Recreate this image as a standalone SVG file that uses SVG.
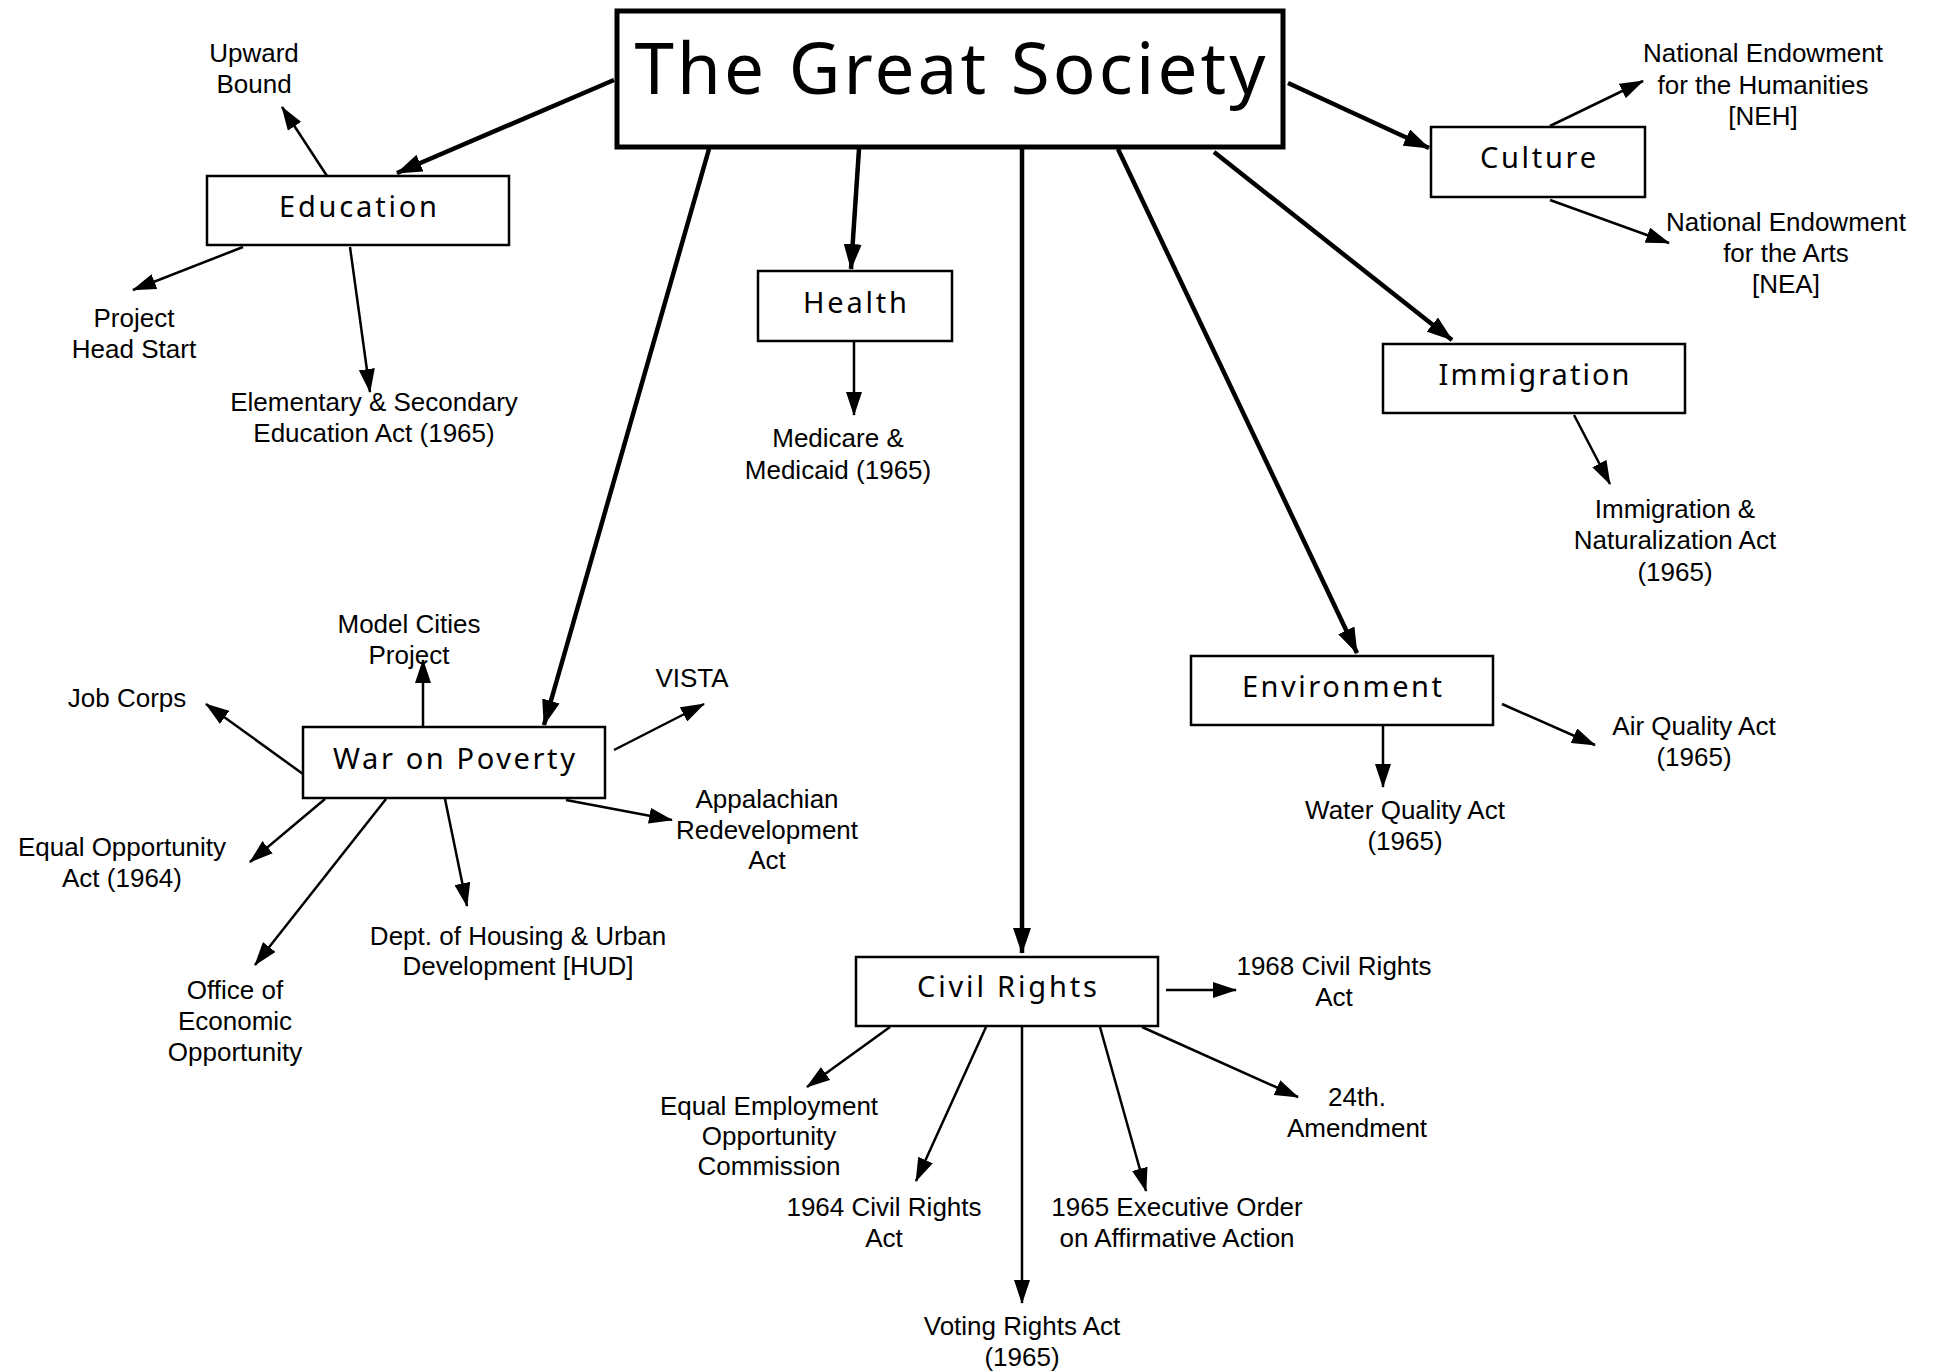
<svg xmlns="http://www.w3.org/2000/svg" width="1933" height="1372" viewBox="0 0 1933 1372">
<style>
.bg{fill:#fff}
.main{fill:#fff;stroke:#000;stroke-width:5}
.box{fill:#fff;stroke:#000;stroke-width:2.5}
.title{font-family:"Noto Sans","DejaVu Sans",sans-serif;font-size:71px;fill:#000;text-anchor:middle}
.bl{font-family:"Noto Sans","DejaVu Sans",sans-serif;font-size:29px;fill:#000;text-anchor:middle}
.lb{font-family:"Liberation Sans",Arial,sans-serif;font-size:26px;fill:#000;text-anchor:middle}
.thick{stroke:#000;stroke-width:4.5;fill:none;marker-end:url(#big)}
.thin{stroke:#000;stroke-width:2.5;fill:none;marker-end:url(#small)}
</style>
<defs>
<marker id="big" markerUnits="userSpaceOnUse" markerWidth="26" markerHeight="18" refX="25" refY="9" orient="auto"><path d="M0,0 L26,9 L0,18 z" fill="#000"/></marker>
<marker id="small" markerUnits="userSpaceOnUse" markerWidth="24" markerHeight="16" refX="23" refY="8" orient="auto"><path d="M0,0 L24,8 L0,16 z" fill="#000"/></marker>
</defs>
<rect class="bg" x="0" y="0" width="1933" height="1372"/>
<g id="connectors">
<line class="thick" x1="614" y1="80" x2="397" y2="173"/>
<line class="thick" x1="859" y1="149" x2="851" y2="269"/>
<line class="thick" x1="709" y1="149" x2="544" y2="725"/>
<line class="thick" x1="1022" y1="149" x2="1022" y2="953"/>
<line class="thick" x1="1118" y1="149" x2="1357" y2="653"/>
<line class="thick" x1="1214" y1="152" x2="1452" y2="340"/>
<line class="thick" x1="1288" y1="83" x2="1429" y2="148"/>
<line class="thin" x1="327" y1="176" x2="282" y2="107"/>
<line class="thin" x1="243" y1="247" x2="133" y2="290"/>
<line class="thin" x1="350" y1="247" x2="370" y2="392"/>
<line class="thin" x1="854" y1="341" x2="854" y2="415"/>
<line class="thin" x1="423" y1="727" x2="423" y2="660"/>
<line class="thin" x1="303" y1="774" x2="206" y2="704"/>
<line class="thin" x1="614" y1="750" x2="704" y2="704"/>
<line class="thin" x1="566" y1="800" x2="672" y2="820"/>
<line class="thin" x1="325" y1="799" x2="250" y2="862"/>
<line class="thin" x1="386" y1="799" x2="255" y2="965"/>
<line class="thin" x1="445" y1="799" x2="467" y2="906"/>
<line class="thin" x1="1166" y1="990" x2="1236" y2="990"/>
<line class="thin" x1="890" y1="1027" x2="807" y2="1087"/>
<line class="thin" x1="986" y1="1027" x2="916" y2="1181"/>
<line class="thin" x1="1022" y1="1027" x2="1022" y2="1303"/>
<line class="thin" x1="1100" y1="1027" x2="1146" y2="1191"/>
<line class="thin" x1="1142" y1="1027" x2="1298" y2="1097"/>
<line class="thin" x1="1383" y1="726" x2="1383" y2="787"/>
<line class="thin" x1="1502" y1="704" x2="1595" y2="745"/>
<line class="thin" x1="1574" y1="415" x2="1610" y2="484"/>
<line class="thin" x1="1550" y1="126" x2="1643" y2="81"/>
<line class="thin" x1="1550" y1="200" x2="1669" y2="243"/>
</g>
<g id="great-society"><rect class="main" x="617" y="11" width="666" height="136"/><text class="title" x="950" y="94" textLength="631" lengthAdjust="spacing">The Great Society</text></g>
<g id="education"><rect class="box" x="207" y="176" width="302" height="69"/><text class="bl" x="358" y="217" textLength="158" lengthAdjust="spacing">Education</text></g>
<g id="health"><rect class="box" x="758" y="271" width="194" height="70"/><text class="bl" x="855" y="313" textLength="104" lengthAdjust="spacing">Health</text></g>
<g id="war-on-poverty"><rect class="box" x="303" y="727" width="302" height="71"/><text class="bl" x="454" y="769" textLength="242" lengthAdjust="spacing">War on Poverty</text></g>
<g id="civil-rights"><rect class="box" x="856" y="957" width="302" height="69"/><text class="bl" x="1007" y="997" textLength="180" lengthAdjust="spacing">Civil Rights</text></g>
<g id="environment"><rect class="box" x="1191" y="656" width="302" height="69"/><text class="bl" x="1342" y="697" textLength="200" lengthAdjust="spacing">Environment</text></g>
<g id="immigration"><rect class="box" x="1383" y="344" width="302" height="69"/><text class="bl" x="1534" y="385" textLength="191" lengthAdjust="spacing">Immigration</text></g>
<g id="culture"><rect class="box" x="1431" y="127" width="214" height="70"/><text class="bl" x="1538" y="168" textLength="116" lengthAdjust="spacing">Culture</text></g>
<g id="upward-bound"><text class="lb" x="254" y="62">Upward</text><text class="lb" x="254" y="93">Bound</text></g>
<g id="head-start"><text class="lb" x="134" y="327">Project</text><text class="lb" x="134" y="358">Head Start</text></g>
<g id="esea"><text class="lb" x="374" y="411">Elementary &amp; Secondary</text><text class="lb" x="374" y="442">Education Act (1965)</text></g>
<g id="medicare"><text class="lb" x="838" y="447">Medicare &amp;</text><text class="lb" x="838" y="479">Medicaid (1965)</text></g>
<g id="model-cities"><text class="lb" x="409" y="633">Model Cities</text><text class="lb" x="409" y="664">Project</text></g>
<g id="job-corps"><text class="lb" x="127" y="707">Job Corps</text></g>
<g id="vista"><text class="lb" x="692" y="687">VISTA</text></g>
<g id="appalachian"><text class="lb" x="767" y="808">Appalachian</text><text class="lb" x="767" y="839">Redevelopment</text><text class="lb" x="767" y="869">Act</text></g>
<g id="eoa"><text class="lb" x="122" y="856">Equal Opportunity</text><text class="lb" x="122" y="887">Act (1964)</text></g>
<g id="oeo"><text class="lb" x="235" y="999">Office of</text><text class="lb" x="235" y="1030">Economic</text><text class="lb" x="235" y="1061">Opportunity</text></g>
<g id="hud"><text class="lb" x="518" y="945">Dept. of Housing &amp; Urban</text><text class="lb" x="518" y="975">Development [HUD]</text></g>
<g id="cr1968"><text class="lb" x="1334" y="975">1968 Civil Rights</text><text class="lb" x="1334" y="1006">Act</text></g>
<g id="eeoc"><text class="lb" x="769" y="1115">Equal Employment</text><text class="lb" x="769" y="1145">Opportunity</text><text class="lb" x="769" y="1175">Commission</text></g>
<g id="cr1964"><text class="lb" x="884" y="1216">1964 Civil Rights</text><text class="lb" x="884" y="1247">Act</text></g>
<g id="voting"><text class="lb" x="1022" y="1335">Voting Rights Act</text><text class="lb" x="1022" y="1366">(1965)</text></g>
<g id="eo1965"><text class="lb" x="1177" y="1216">1965 Executive Order</text><text class="lb" x="1177" y="1247">on Affirmative Action</text></g>
<g id="amend24"><text class="lb" x="1357" y="1106">24th.</text><text class="lb" x="1357" y="1137">Amendment</text></g>
<g id="water"><text class="lb" x="1405" y="819">Water Quality Act</text><text class="lb" x="1405" y="850">(1965)</text></g>
<g id="air"><text class="lb" x="1694" y="735">Air Quality Act</text><text class="lb" x="1694" y="766">(1965)</text></g>
<g id="ina"><text class="lb" x="1675" y="518">Immigration &amp;</text><text class="lb" x="1675" y="549">Naturalization Act</text><text class="lb" x="1675" y="581">(1965)</text></g>
<g id="neh"><text class="lb" x="1763" y="62">National Endowment</text><text class="lb" x="1763" y="94">for the Humanities</text><text class="lb" x="1763" y="125">[NEH]</text></g>
<g id="nea"><text class="lb" x="1786" y="231">National Endowment</text><text class="lb" x="1786" y="262">for the Arts</text><text class="lb" x="1786" y="293">[NEA]</text></g>
</svg>
